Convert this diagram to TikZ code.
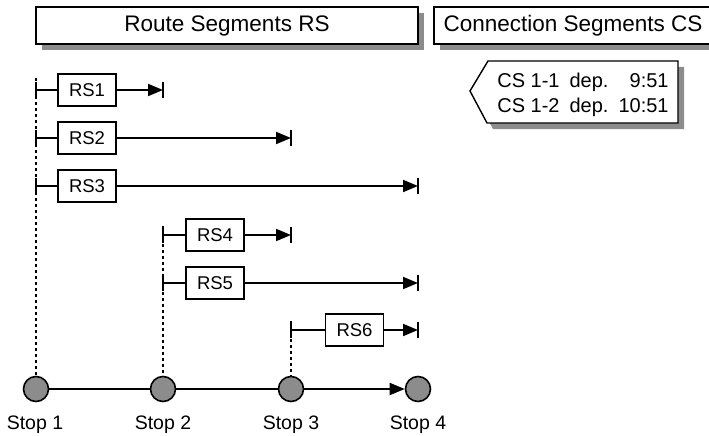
\documentclass[tikz,border=0pt]{standalone}
\usepackage{fontspec}
\setmainfont{Liberation Sans}
\usetikzlibrary{arrows.meta,shadows}
\begin{document}
\begin{tikzpicture}[x=1pt,y=-1pt,
  shadowed/.style={general shadow={fill=black!45, shadow xshift=6pt, shadow yshift=-6pt}},
  titlebox/.style={draw, fill=white, line width=1.4pt, minimum height=37pt, inner sep=0pt, font=\fontsize{22.5}{26}\selectfont, shadowed},
  rsbox/.style={draw, fill=white, line width=1.4pt, minimum width=58pt, minimum height=32pt, inner sep=0pt, font=\fontsize{18.5}{21}\selectfont},
  stopnode/.style={circle, draw, line width=1.6pt, fill=black!45, minimum size=25pt, inner sep=0pt},
  stoplabel/.style={font=\fontsize{19.5}{22}\selectfont, inner sep=0pt},
  seg/.style={line width=1.9pt},
  segarrow/.style={line width=1.9pt, -{Triangle[length=15pt,width=12pt]}},
  tickline/.style={line width=1.6pt},
  guide/.style={line width=1.5pt, dash pattern=on 3pt off 3pt},
]
\useasboundingbox (0,0) rectangle (709,436);

% titles
\node[titlebox, minimum width=382pt] (rstitle) at (227,25.5) {Route Segments RS};
\node[titlebox, minimum width=278pt] (cstitle) at (573,25.5) {Connection Segments CS};

% callout
\draw[line width=1.4pt, fill=white, shadowed] (470,91) -- (488,61) -- (678,61) -- (678,123) -- (487,123) -- cycle;
\node[font=\fontsize{20}{25}\selectfont, inner sep=0pt] (cstext) at (583,94.5)
  {\begin{tabular}{@{}l@{\hspace{10pt}}l@{\hspace{10pt}}r@{}}CS 1-1 & dep. & 9:51\\ CS 1-2 & dep. & 10:51\end{tabular}};

% stops
\node[stopnode] (s1) at (36,389) {};
\node[stopnode] (s2) at (163,389) {};
\node[stopnode] (s3) at (291,389) {};
\node[stopnode] (s4) at (418,389) {};
\node[stoplabel] (l1) at (35,425) {Stop 1};
\node[stoplabel] (l2) at (163,425) {Stop 2};
\node[stoplabel] (l3) at (291,425) {Stop 3};
\node[stoplabel] (l4) at (418,425) {Stop 4};
\draw[seg] (s1) -- (s2);
\draw[seg] (s2) -- (s3);
\draw[segarrow] (s3) -- (s4);

% guides
\coordinate (g1) at (36,78);
\coordinate (g2) at (163,226);
\coordinate (g3) at (291,321);
\draw[guide] (g1) -- (s1);
\draw[guide] (g2) -- (s2);
\draw[guide] (g3) -- (s3);

% route segments
\foreach \n/\xs/\xe/\bx/\y in {1/36/163/87/90, 2/36/291/87/138, 3/36/418/87/186, 4/163/291/215/235, 5/163/418/215/283, 6/291/418/354.5/330}{
  \coordinate (a\n) at (\xs,\y);
  \coordinate (b\n) at (\xe,\y);
  \node[rsbox] (rs\n) at (\bx,\y) {RS\n};
  \draw[seg] (a\n) -- (rs\n);
  \draw[segarrow] (rs\n) -- (b\n);
  \draw[tickline] ([yshift=-8pt]a\n) -- ([yshift=8pt]a\n);
  \draw[tickline] ([yshift=-8pt]b\n) -- ([yshift=8pt]b\n);
}
\end{tikzpicture}
\end{document}
